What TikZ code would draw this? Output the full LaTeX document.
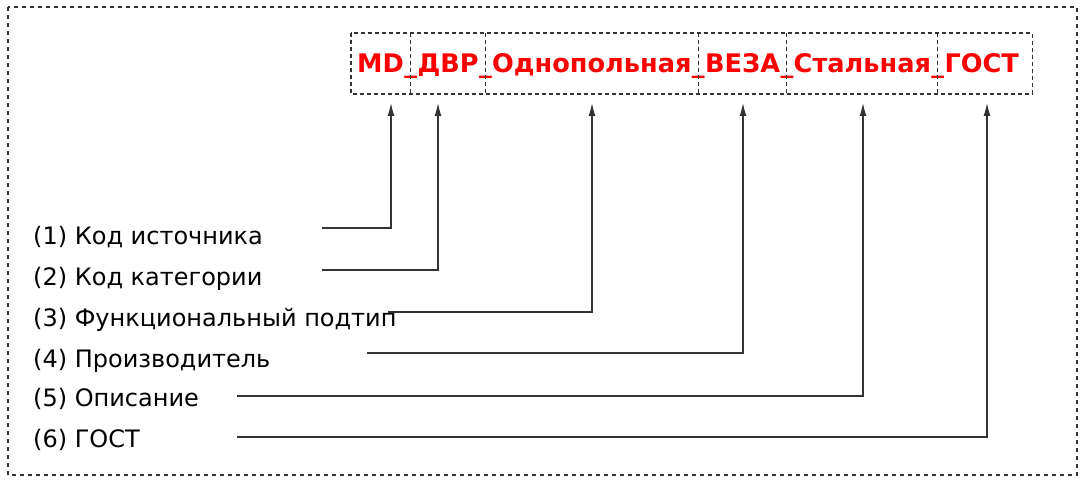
\documentclass[tikz,border=0pt]{standalone}
\usepackage{fontspec}
\setmainfont{DejaVu Sans}
\usetikzlibrary{arrows.meta,positioning}

\tikzset{
  seg/.style={inner sep=0pt, anchor=base west, text=red, font=\fontsize{25.6}{30}\selectfont\bfseries},
  lbl/.style={inner sep=0pt, anchor=base west, font=\fontsize{24}{28}\selectfont},
  dashbox/.style={draw=black!80, line width=1.1pt, dash pattern=on 4pt off 3pt},
  conn/.style={draw=black!80, line width=1.2pt, -{Latex[length=13pt,width=7pt]}}
}

\begin{document}
\begin{tikzpicture}[x=1pt,y=-1pt]
\useasboundingbox (0,0) rectangle (1086,486);

% Рамка
\draw[dashbox, dash pattern=on 4pt off 4pt] (8,7) rectangle (1077,475);

% Обозначение
\node[seg] (s1) at (357,73) {MD};
\node[seg] (u1) at (s1.base east) {\_};
\node[seg] (s2) at (u1.base east) {ДВР};
\node[seg] (u2) at (s2.base east) {\_};
\node[seg] (s3) at (u2.base east) {Однопольная};
\node[seg] (u3) at (s3.base east) {\_};
\node[seg] (s4) at (u3.base east) {ВЕЗА};
\node[seg] (u4) at (s4.base east) {\_};
\node[seg] (s5) at (u4.base east) {Стальная};
\node[seg] (u5) at (s5.base east) {\_};
\node[seg] (s6) at (u5.base east) {ГОСТ};

% Рамки частей
\coordinate (top) at (0,33);
\coordinate (bot) at (0,94);
\coordinate (b0) at ([xshift=-6pt]s1.base west);
\coordinate (b6) at ([xshift=13pt]s6.base east);
\draw[dashbox] (b0 |- top) rectangle (b6 |- bot);
\foreach \u in {u1, u2, u3, u4, u5}
  \draw[dashbox] (\u |- top) -- (\u |- bot);

% Подписи
\node[lbl] (l1) at (33,244) {(1) Код источника};
\node[lbl] (l2) at (33,285) {(2) Код категории};
\node[lbl] (l3) at (33,326) {(3) Функциональный подтип};
\node[lbl] (l4) at (33,367) {(4) Производитель};
\node[lbl] (l5) at (33,406) {(5) Описание};
\node[lbl] (l6) at (33,447) {(6) ГОСТ};

% Выноски
\foreach \i/\s/\y/\x in {1/322/228/391, 2/322/270/438, 3/388/312/592,
                         4/367/353/743, 5/237/396/863, 6/237/437/987} {
  \coordinate (c\i) at (\s,\y);
  \coordinate (a\i) at (\x,103);
  \draw[conn] (c\i) -| (a\i);
}

\end{tikzpicture}
\end{document}
